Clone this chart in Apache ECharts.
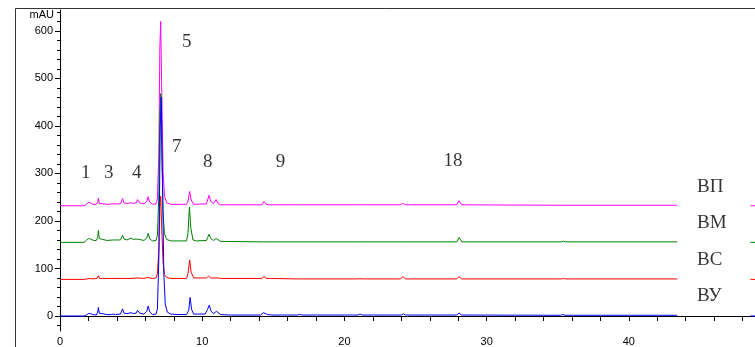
<!DOCTYPE html>
<html>
<head>
<meta charset="utf-8">
<script src="https://cdn.jsdelivr.net/npm/echarts@6/dist/echarts.min.js"></script>
<style>
  html, body { margin: 0; padding: 0; background: #fff; }
  #chart { width: 755px; height: 347px; }
</style>
</head>
<body>
<div id="chart"></div>
<script>
// chromatogram traces, [time min, mAU above own baseline]
var traceNames = ['ВП', 'ВМ', 'ВС', 'ВУ'];
var traceColors = ['#ff00ff', '#008000', '#ff0000', '#0000ff'];
var baselines = [232, 155, 77, 0];

var tracePink = [[0,0],[1.7,0],[1.85,3],[2.0,7],[2.15,6],[2.3,3],[2.55,3],[2.65,8],[2.7,16],[2.76,5],[2.9,3],[3.3,3],[3.75,4],[4.25,4],[4.4,15],[4.5,6],[4.7,5],[5.0,6],[5.15,5],[5.35,6],[5.45,13],[5.6,6],[5.9,4],[6.1,9],[6.2,19],[6.32,7],[6.5,3],[6.75,4],[6.85,15],[6.95,110],[7.02,330],[7.08,388],[7.15,250],[7.25,70],[7.35,20],[7.5,6],[7.8,3],[8.9,3],[9.0,10],[9.12,30],[9.22,12],[9.4,3],[10.3,4],[10.38,12],[10.48,22],[10.6,9],[10.8,5],[10.98,13],[11.1,5],[11.3,2],[14.2,2],[14.35,9],[14.5,3],[14.7,2],[16.7,2],[16.83,4],[17.0,2],[21.0,2],[21.1,3],[21.25,2],[23.95,2],[24.1,5],[24.3,2],[27.9,2],[28.05,10.5],[28.25,2],[35.3,1],[35.4,1.5],[35.5,1],[43.4,1]];
var traceGreen = [[0,0],[1.7,0],[1.85,4],[2.0,8],[2.15,7],[2.35,4],[2.55,4],[2.65,10],[2.7,25],[2.76,8],[2.9,4],[3.3,4],[3.75,5],[4.25,5],[4.4,15],[4.5,7],[4.7,5],[5.0,9],[5.15,6],[5.35,7],[5.45,11],[5.6,6],[5.9,4],[6.1,9],[6.2,19],[6.32,7],[6.5,3],[6.75,4],[6.85,15],[6.95,100],[7.02,270],[7.08,313],[7.15,200],[7.25,60],[7.35,18],[7.5,6],[7.8,3],[8.2,3],[8.3,5],[8.45,3],[8.9,3],[9.0,20],[9.1,74],[9.2,30],[9.35,5],[9.6,3],[10.3,4],[10.38,10],[10.48,17],[10.6,8],[10.8,4],[10.98,8],[11.1,4],[11.3,2],[14.3,1],[21.0,1],[21.1,3],[21.25,1],[24.0,1],[24.1,3],[24.25,1],[27.9,1],[28.06,10],[28.25,1],[35.25,1],[35.4,2.5],[35.55,1],[43.4,1]];
var traceRed = [[0,0],[1.7,0],[1.9,1],[2.05,2],[2.3,1],[2.6,2],[2.7,8],[2.78,2],[3.0,2],[3.6,2],[3.7,3.5],[3.8,2],[4.3,2],[4.4,6],[4.5,2],[5.0,2],[5.45,3],[5.9,2],[6.1,4],[6.2,8],[6.32,3],[6.5,2],[6.75,3],[6.85,12],[6.95,60],[7.02,150],[7.08,175],[7.15,110],[7.25,35],[7.35,10],[7.5,4],[7.8,2],[8.9,2],[9.0,12],[9.12,41],[9.22,15],[9.4,3],[10.3,3],[10.45,7],[10.6,3],[10.9,3],[11.02,6],[11.15,3],[11.3,2],[14.2,2],[14.35,6],[14.5,2],[14.8,2],[16.7,1],[16.83,2],[17.0,1],[20.9,1],[21.1,1.5],[21.3,1],[23.95,1],[24.1,6],[24.3,1],[27.9,1],[28.05,6],[28.25,1],[35.25,1],[35.4,2],[35.55,1],[43.4,1]];
var traceBlue = [[0,0],[1.7,0],[1.85,2],[2.0,5],[2.15,5],[2.3,3],[2.55,2],[2.65,8],[2.7,18],[2.76,6],[2.9,3],[3.3,3],[3.6,3],[3.75,4],[3.9,3],[4.25,4],[4.4,15],[4.5,6],[4.7,5],[5.0,7],[5.15,5],[5.35,6],[5.45,12],[5.6,6],[5.9,4],[6.1,10],[6.2,21],[6.32,8],[6.5,3],[6.75,4],[6.85,15],[6.95,120],[7.05,400],[7.12,460],[7.2,300],[7.3,90],[7.4,25],[7.55,8],[7.8,4],[8.3,3],[8.9,3],[9.05,12],[9.15,39],[9.25,14],[9.4,4],[10.2,4],[10.38,14],[10.5,23],[10.62,10],[10.8,5],[11.0,10],[11.1,6],[11.3,3],[12,2],[14.1,2],[14.3,7],[14.4,7],[14.6,3],[14.9,2],[16.7,2],[16.85,3.5],[17.0,2],[20.95,2],[21.1,4],[21.25,2],[24.0,2],[24.15,4.5],[24.3,2],[27.9,2],[28.05,6],[28.25,2],[35.2,1.5],[35.35,3],[35.5,1.5],[43.4,1.5]];
var traces = [tracePink, traceGreen, traceRed, traceBlue];

// stub pieces at right edge
var stubTimes = [48.55, 49];

// peak number labels [time, mAU]
var peakLabels = ['1', '3', '4', '5', '7', '8', '9', '18'];
var peakLabelPos = [[1.81,300],[3.43,300],[5.39,300],[8.91,577],[8.21,356],[10.39,325],[15.51,325],[27.64,327]];
// trace name labels, left edge time, mAU
var nameLabelPos = [[44.8,272],[44.8,196],[44.8,118],[44.8,42]];

var xLabelVals = [0, 10, 20, 30, 40];
var xTickVals = [0,2,4,6,8,10,12,14,16,18,20,22,24,26,28,30,32,34,36,38,40,42,44,46,48];
var yLabelVals = [0, 100, 200, 300, 400, 500, 600];
var yMinorVals = [-20,20,40,60,80,120,140,160,180,220,240,260,280,320,340,360,380,420,440,460,480,520,540,560,580,620,640];

var tickFont = { fontFamily: 'Liberation Sans Narrow, Liberation Sans, Arial', fontSize: 11, color: '#000' };
var serif = 'Liberation Serif, DejaVu Serif, serif';

var series = [];
traces.forEach(function (tr, i) {
    series.push({
        type: 'line',
        data: tr.map(function (p) { return [p[0], p[1] + baselines[i]]; }),
        showSymbol: false,
        symbol: 'none',
        lineStyle: { color: traceColors[i], width: 1 },
        animation: false,
        silent: true
    });
    series.push({
        type: 'line',
        data: stubTimes.map(function (t) { return [t, baselines[i]]; }),
        symbol: 'none',
        lineStyle: { color: traceColors[i], width: 1 },
        animation: false,
        silent: true
    });
});
series.push({
    type: 'scatter',
    symbolSize: 0,
    data: peakLabels.map(function (n, i) { return { name: n, value: peakLabelPos[i] }; }),
    label: {
        show: true, position: 'inside', formatter: '{b}',
        fontFamily: serif, fontSize: 19, color: '#000'
    },
    animation: false,
    silent: true
});
series.push({
    type: 'scatter',
    symbolSize: 0,
    data: traceNames.map(function (n, i) { return { name: n, value: nameLabelPos[i] }; }),
    label: {
        show: true, position: 'right', distance: 0, formatter: '{b}',
        fontFamily: serif, fontSize: 19, color: '#000'
    },
    animation: false,
    silent: true
});

var chart = echarts.init(document.getElementById('chart'));
chart.setOption({
    backgroundColor: '#fff',
    animation: false,
    grid: { left: 60, right: 0, top: 10, bottom: 16 },
    xAxis: {
        type: 'value',
        min: 0, max: 48.87,
        axisLine: { lineStyle: { color: '#000', width: 1 } },
        axisTick: { show: true, length: 5, customValues: xTickVals, lineStyle: { color: '#000' } },
        axisLabel: Object.assign({ customValues: xLabelVals, margin: 5 }, tickFont),
        splitLine: { show: false }
    },
    yAxis: [{
        type: 'value',
        min: -31.6, max: 644,
        axisLine: { show: true, lineStyle: { color: '#000', width: 1 } },
        axisTick: { show: true, length: 5, customValues: yLabelVals, lineStyle: { color: '#000' } },
        axisLabel: Object.assign({ customValues: yLabelVals, margin: 7 }, tickFont),
        splitLine: { show: false }
    }, {
        type: 'value',
        position: 'left',
        min: -31.6, max: 644,
        axisLine: { show: false },
        axisTick: { show: true, length: 3, customValues: yMinorVals, lineStyle: { color: '#000' } },
        axisLabel: { show: false },
        splitLine: { show: false }
    }],
    graphic: [
        { type: 'line', shape: { x1: 15.5, y1: 8.5, x2: 15.5, y2: 347 }, style: { stroke: '#333', lineWidth: 1 } },
        { type: 'line', shape: { x1: 15.5, y1: 8.5, x2: 755, y2: 8.5 }, style: { stroke: '#333', lineWidth: 1 } },
        { type: 'text', style: { text: 'mAU', x: 54, y: 15, align: 'right', verticalAlign: 'middle',
            fontFamily: tickFont.fontFamily, fontSize: 11, fill: '#000' } }
    ],
    series: series
});
</script>
</body>
</html>
